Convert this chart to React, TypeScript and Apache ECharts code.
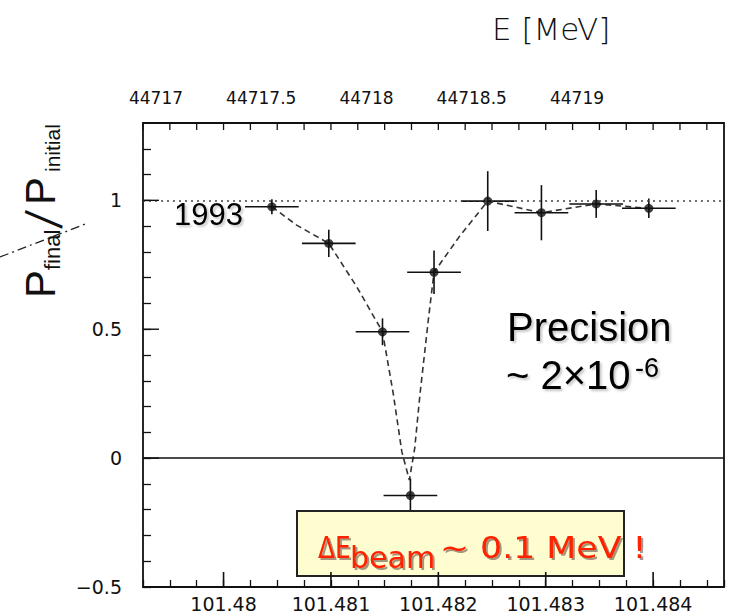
import { useEffect, useRef } from "react";
import * as echarts from "echarts";

// Depolarisation scan (1993): bin centre, measured P_final/P_initial and errors
const freq = [101.48045, 101.48098, 101.48148, 101.48174, 101.48196, 101.48246, 101.48296, 101.48347, 101.48396];
const ratio = [0.975, 0.833, 0.49, -0.145, 0.721, 0.997, 0.952, 0.986, 0.969];
const freqErr = [0.00025, 0.00025, 0.00025, 0.00025, 0.00025, 0.00025, 0.00025, 0.00025, 0.00025];
const ratioErr = [0.029, 0.053, 0.052, 0.066, 0.084, 0.116, 0.107, 0.054, 0.038];

// Resonance fit (dashed curve)
const fitFreq = [101.48045, 101.48068, 101.48098, 101.48124, 101.48148, 101.48158, 101.48166, 101.48173, 101.48178, 101.48183, 101.48191, 101.48196, 101.4822, 101.48246, 101.48296, 101.48347, 101.48396];
const fitRatio = [0.975, 0.904, 0.833, 0.665, 0.49, 0.251, 0.025, -0.085, 0.038, 0.251, 0.548, 0.721, 0.862, 0.997, 0.952, 0.986, 0.969];

// Tick labels
const yTickLabels = [-0.5, 0, 0.5, 1];
const freqTickLabels = [101.48, 101.481, 101.482, 101.483, 101.484];
const energyTickLabels = [44717, 44717.5, 44718, 44718.5, 44719];

// Plot frame in pixels
const frame = { left: 143, right: 724, top: 123, bottom: 587 };
const W = 729;
const H = 616;
const xMin = 101.47925;
const xMax = 101.48466;
const xStep = 0.00025;
const yMin = -0.5;
const yMax = 1.3;
const eLeft = 156;
const ePxPerMeV = 210.5;

const TICK_FONT = '"DejaVu Sans", Verdana, sans-serif';
const ARIAL = '"Liberation Sans", Arial, sans-serif';

const near = (list: number[], v: number) => list.find((l) => Math.abs(l - v) < 1e-7);

export default function App() {
  const ref = useRef<HTMLDivElement>(null);

  useEffect(() => {
    document.body.style.margin = "0";
    if (!ref.current) return;
    const chart = echarts.init(ref.current, undefined, { renderer: "svg" });

    const frameW = frame.right - frame.left;
    const frameH = frame.bottom - frame.top;
    const pxPerFreq = frameW / (xMax - xMin);
    const majorLeft = frame.left + (freqTickLabels[0] - xMin) * pxPerFreq;
    const eMax = energyTickLabels[0] + (frame.right - eLeft) / ePxPerMeV;

    const points = freq.map((f, i) => [f, ratio[i], freqErr[i], ratioErr[i]]);
    const fit = fitFreq.map((f, i) => [f, fitRatio[i]]);

    const tickStyle = { color: "#111", width: 1.3 };
    const hiddenLine = { show: false, onZero: false };

    // Texts are centred on y; the baseline sits about 0.346·size below it
    const mid = (baseline: number, size: number) => baseline - 0.346 * size;

    const shadow = {
      textShadowColor: "rgba(0,0,0,0.22)",
      textShadowBlur: 2,
      textShadowOffsetX: 2,
      textShadowOffsetY: 2,
    };
    const redShadow = {
      textShadowColor: "rgba(60,30,30,0.45)",
      textShadowBlur: 1,
      textShadowOffsetX: 2,
      textShadowOffsetY: 2,
    };
    const txt = (text: string, font: string, fill: string, extra: any = {}) => ({
      text,
      font,
      fill,
      verticalAlign: "middle",
      textVerticalAlign: "middle",
      ...extra,
    });

    const graphics: any[] = [
      {
        type: "line",
        shape: { x1: 0, y1: 257, x2: 88, y2: 223 },
        style: { stroke: "#222", lineWidth: 1.3, lineDash: [9, 4, 2, 4] },
      },
      {
        type: "group",
        x: 55,
        y: 295,
        rotation: Math.PI / 2,
        children: [
          { type: "text", x: -3, y: mid(0, 42), style: txt("P", `42px ${ARIAL}`, "#111") },
          { type: "text", x: 25, y: mid(5, 22), style: txt("final", `22px ${ARIAL}`, "#111") },
          { type: "text", x: 70, y: -12, rotation: -0.2, scaleY: 1.35, style: txt("/", `40px ${ARIAL}`, "#111") },
          { type: "text", x: 90, y: mid(0, 42), style: txt("P", `42px ${ARIAL}`, "#111") },
          { type: "text", x: 123, y: mid(5, 21), style: txt("initial", `21px ${ARIAL}`, "#111") },
        ],
      },
      { type: "text", x: 492, y: mid(40, 31), style: txt("E [MeV]", `200 31px ${TICK_FONT}`, "#111") },
      { type: "text", x: 174, y: mid(225, 31), z: 50, style: txt("1993", `31px ${ARIAL}`, "#000", shadow) },
      { type: "text", x: 507, y: mid(340.5, 40), z: 50, style: txt("Precision", `40px ${ARIAL}`, "#000", shadow) },
      { type: "text", x: 506, y: mid(389, 40), z: 50, style: txt("~ 2×10", `40px ${ARIAL}`, "#000", shadow) },
      { type: "text", x: 635, y: mid(377, 27), z: 50, style: txt("-6", `27px ${ARIAL}`, "#000", shadow) },
      {
        type: "rect",
        z: 100,
        shape: { x: 297, y: 511, width: 327, height: 65 },
        style: { fill: "#fdfdcf", stroke: "#222", lineWidth: 2 },
      },
      { type: "text", x: 318, y: mid(558, 31), z: 101, scaleX: 0.8, style: txt("ΔE", `31px ${TICK_FONT}`, "#ff2000", redShadow) },
      { type: "text", x: 350, y: mid(568, 31), z: 101, scaleX: 0.97, style: txt("beam", `31px ${TICK_FONT}`, "#ff2000", redShadow) },
      { type: "text", x: 440, y: mid(558, 31), z: 101, scaleX: 1.12, style: txt("~ 0.1 MeV !", `31px ${TICK_FONT}`, "#ff2000", redShadow) },
    ];

    const option: any = {
      animation: false,
      backgroundColor: "#fff",
      grid: [
        {
          left: frame.left,
          top: frame.top,
          width: frameW,
          height: frameH,
          show: true,
          borderColor: "#111",
          borderWidth: 1.8,
          backgroundColor: "transparent",
        },
        { left: majorLeft, top: frame.top, width: frame.right - majorLeft, height: frameH },
        { left: eLeft, top: frame.top, width: frame.right - eLeft, height: frameH },
      ],
      xAxis: [
        {
          gridIndex: 0,
          type: "value",
          position: "bottom",
          min: xMin,
          max: xMax,
          interval: xStep,
          axisLine: hiddenLine,
          axisTick: { show: true, inside: true, length: 7, lineStyle: tickStyle },
          axisLabel: { show: false },
          splitLine: { show: false },
        },
        {
          gridIndex: 1,
          type: "value",
          position: "bottom",
          min: freqTickLabels[0],
          max: xMax,
          interval: 0.001,
          axisLine: hiddenLine,
          axisTick: { show: false },
          axisLabel: {
            showMaxLabel: false,
            margin: 7,
            fontSize: 19,
            lineHeight: 19,
            fontFamily: TICK_FONT,
            color: "#111",
            formatter: (v: number) => {
              const l = near(freqTickLabels, v);
              return l === undefined ? "" : String(l);
            },
          },
          splitLine: { show: false },
        },
        {
          gridIndex: 2,
          type: "value",
          position: "top",
          min: energyTickLabels[0],
          max: eMax,
          interval: 0.5,
          axisLine: hiddenLine,
          axisTick: { show: false },
          axisLabel: {
            showMaxLabel: false,
            margin: 17,
            fontSize: 17,
            lineHeight: 17,
            fontFamily: TICK_FONT,
            color: "#111",
            formatter: (v: number) => {
              const l = near(energyTickLabels, v);
              return l === undefined ? "" : String(l);
            },
          },
          splitLine: { show: false },
        },
      ],
      yAxis: [
        {
          gridIndex: 0,
          type: "value",
          position: "left",
          min: yMin,
          max: yMax,
          interval: 0.1,
          axisLine: hiddenLine,
          axisTick: { show: true, inside: true, length: 8, lineStyle: tickStyle },
          axisLabel: {
            showMaxLabel: false,
            margin: 21,
            fontSize: 19,
            fontFamily: TICK_FONT,
            color: "#111",
            formatter: (v: number) => {
              const l = near(yTickLabels, v);
              if (l === undefined) return "";
              return l < 0 ? "\u2212" + String(-l) : String(l);
            },
          },
          splitLine: { show: false },
        },
        { gridIndex: 1, type: "value", show: false, min: 0, max: 1, axisLine: hiddenLine },
        { gridIndex: 2, type: "value", show: false, min: 0, max: 1, axisLine: hiddenLine },
      ],
      series: [
        {
          name: "fit",
          type: "line",
          xAxisIndex: 0,
          yAxisIndex: 0,
          data: fit,
          showSymbol: false,
          smooth: false,
          lineStyle: { color: "#333", width: 1.6, type: [6, 4] },
          z: 2,
          markLine: {
            silent: true,
            symbol: "none",
            label: { show: false },
            data: [
              { yAxis: 1, lineStyle: { type: [2, 4], color: "#444", width: 1.5 } },
              { yAxis: 0, lineStyle: { type: "solid", color: "#111", width: 1.6 } },
            ],
          },
        },
        {
          name: "errors",
          type: "custom",
          xAxisIndex: 0,
          yAxisIndex: 0,
          data: points,
          encode: { x: 0, y: 1 },
          z: 3,
          renderItem: (_params: any, api: any) => {
            const x = api.value(0);
            const y = api.value(1);
            const ex = api.value(2);
            const ey = api.value(3);
            const l = api.coord([x - ex, y]);
            const r = api.coord([x + ex, y]);
            const t = api.coord([x, y + ey]);
            const b = api.coord([x, y - ey]);
            const style = { stroke: "#111", lineWidth: 1.6 };
            return {
              type: "group",
              children: [
                { type: "line", shape: { x1: l[0], y1: l[1], x2: r[0], y2: r[1] }, style },
                { type: "line", shape: { x1: t[0], y1: t[1], x2: b[0], y2: b[1] }, style },
              ],
            };
          },
        },
        {
          name: "data",
          type: "scatter",
          xAxisIndex: 0,
          yAxisIndex: 0,
          data: points.map((p) => [p[0], p[1]]),
          symbol: "circle",
          symbolSize: 9,
          itemStyle: { color: "#111" },
          z: 4,
        },
      ],
      graphic: graphics,
    };

    chart.setOption(option);

    // Frame decorations placed through the grid's scales: long ticks at the
    // labelled frequencies and ratios, and minor ticks mirrored on the top edge
    const toPx = (v: number[]) => chart.convertToPixel({ gridIndex: 0 }, v) as number[];
    const tick = (p: number[], dx: number, dy: number, w: number) => ({
      type: "line",
      z: 120,
      silent: true,
      shape: { x1: p[0], y1: p[1], x2: p[0] + dx, y2: p[1] + dy },
      style: { stroke: "#111", lineWidth: w },
    });
    const extra: any[] = [];
    freqTickLabels.forEach((v) => {
      const p = toPx([v, yMin]);
      if (p && isFinite(p[0])) extra.push(tick(p, 0, -15, 1.6));
    });
    yTickLabels.forEach((v) => {
      const p = toPx([xMin, v]);
      if (p && isFinite(p[1])) extra.push(tick(p, 16, 0, 1.4));
    });
    for (let k = 0; xMin + k * xStep <= xMax + 1e-9; k++) {
      const p = toPx([xMin + k * xStep, yMax]);
      if (p && isFinite(p[0])) extra.push(tick(p, 0, 7, 1.3));
    }
    chart.setOption({ graphic: [...graphics, ...extra] });

    return () => chart.dispose();
  }, []);

  return <div ref={ref} style={{ width: W, height: H }} />;
}
